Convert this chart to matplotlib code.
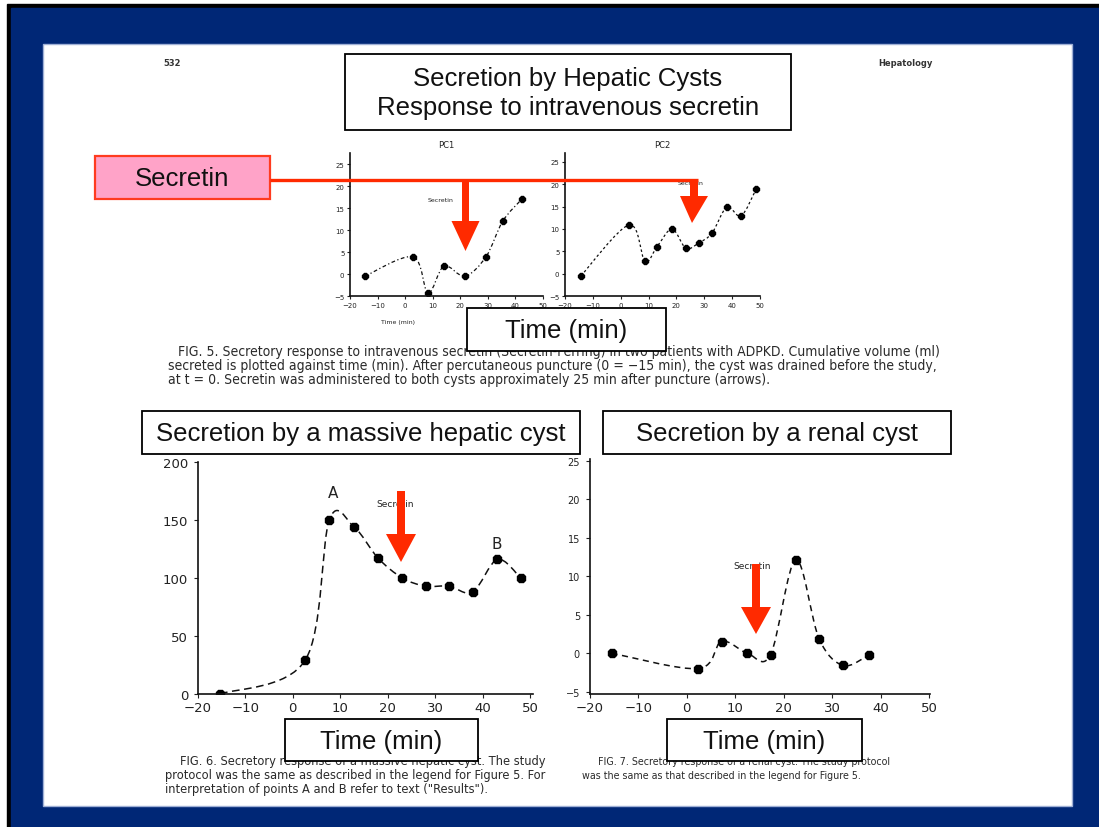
import matplotlib
matplotlib.use("Agg")
import matplotlib.pyplot as plt
from matplotlib.patches import Rectangle, Polygon, PathPatch
from matplotlib.path import Path
from matplotlib import font_manager
import numpy as np

# ---------------- data ----------------
pc1_time = [-14.6, 2.8, 8.3, 14.1, 21.7, 29.3, 35.4, 42.3]
pc1_volume = [-0.5, 3.9, -4.3, 1.8, -0.5, 3.9, 12.0, 17.0]

pc2_time = [-14.3, 3.0, 8.7, 13.0, 18.4, 23.4, 28.1, 32.8, 38.1, 43.2, 48.6]
pc2_volume = [-0.5, 10.9, 2.8, 6.0, 10.0, 5.7, 6.9, 9.1, 14.9, 12.9, 18.9]

massive_time = [-15.3, 2.6, 7.7, 12.9, 18.0, 23.1, 28.0, 32.9, 37.9, 43.1, 48.0]
massive_volume = [0, 29, 150, 144, 117, 100, 93, 93, 88, 116, 100]

renal_time = [-15.5, 2.4, 7.2, 12.5, 17.3, 22.5, 27.3, 32.3, 37.6]
renal_volume = [0, -2.0, 1.5, 0, -0.2, 12.1, 1.9, -1.6, -0.2]

top_xticks = [-20, -10, 0, 10, 20, 30, 40, 50]
top_yticks = [-5, 0, 5, 10, 15, 20, 25]
massive_xticks = [-20, -10, 0, 10, 20, 30, 40, 50]
massive_yticks = [0, 50, 100, 150, 200]
renal_xticks = [-20, -10, 0, 10, 20, 30, 40, 50]
renal_yticks = [-5, 0, 5, 10, 15, 20, 25]

title_lines = ["Secretion by Hepatic Cysts", "Response to intravenous secretin"]
panel_titles = ["Secretion by a massive hepatic cyst", "Secretion by a renal cyst"]
small_titles = ["PC1", "PC2"]
xlabel_text = "Time (min)"
secretin_text = "Secretin"

caption_top = [
    "FIG. 5. Secretory response to intravenous secretin (Secretin-Ferring) in two patients with ADPKD. Cumulative volume (ml)",
    "secreted is plotted against time (min). After percutaneous puncture (0 = \u221215 min), the cyst was drained before the study,",
    "at t = 0. Secretin was administered to both cysts approximately 25 min after puncture (arrows).",
]
caption_left = [
    "FIG. 6. Secretory response of a massive hepatic cyst. The study",
    "protocol was the same as described in the legend for Figure 5. For",
    "interpretation of points A and B refer to text (\"Results\").",
]
caption_right = [
    "FIG. 7. Secretory response of a renal cyst. The study protocol",
    "was the same as that described in the legend for Figure 5.",
]

# ---------------- setup ----------------
W, H = 1099, 828
fig = plt.figure(figsize=(W / 100, H / 100), dpi=100)
fig.patch.set_facecolor("white")

names = {f.name for f in font_manager.fontManager.ttflist}
SLIDE_FONT = ["Liberation Sans Narrow", "Liberation Sans", "DejaVu Sans"]
SLIDE_FONT = [f for f in SLIDE_FONT if f in names] or ["DejaVu Sans"]
narrow = SLIDE_FONT[0] == "Liberation Sans Narrow"
BIG = 21.5 if narrow else 18.5

NAVY = "#002776"
RED = "#ff2a00"
PINK = "#ffa3c8"


def ax_px(left, right, top, bottom, **kw):
    return fig.add_axes([left / W, 1 - bottom / H, (right - left) / W, (bottom - top) / H], **kw)


# background layer (pixel coordinates)
bg = fig.add_axes([0, 0, 1, 1], zorder=0)
bg.set_xlim(0, W)
bg.set_ylim(H, 0)
bg.axis("off")
bg.add_patch(Rectangle((7, 5), W, H, color="black"))
bg.add_patch(Rectangle((11, 9), W, H, color=NAVY))
bg.add_patch(Rectangle((43, 45), 1072 - 43, 807 - 45, facecolor="white", edgecolor="#9fb0d6", lw=1))

bg.text(172, 64, "532", fontsize=6, color="#333", ha="center", va="center", fontweight="bold")
bg.text(905, 64, "Hepatology", fontsize=6, color="#333", ha="center", va="center", fontweight="bold")

fig.canvas.draw()
renderer = fig.canvas.get_renderer()


def caption(ax, x_full, x_first, x_right, ys, lines):
    """Fit the first full line to its width, then use the same size for all lines."""
    t0 = ax.text(x_first, ys[0], lines[0], fontsize=7, ha="left", va="center", color="#2a2a2a",
                 fontstretch="condensed")
    bb = t0.get_window_extent(renderer)
    size = 7 * (x_right - x_first) / bb.width
    t0.set_fontsize(size)
    for y, s in zip(ys[1:], lines[1:]):
        ax.text(x_full, y, s, fontsize=size, ha="left", va="center", color="#2a2a2a",
                fontstretch="condensed")


caption(bg, 168, 178, 945, [352, 366, 380], caption_top)
caption(bg, 165, 180, 545, [762, 776, 790], caption_left)
caption(bg, 582, 598, 890, [762, 776], caption_right)


def catmull_path(xs, ys):
    pts = np.column_stack([xs, ys]).astype(float)
    verts = [pts[0]]
    codes = [Path.MOVETO]
    n = len(pts)
    for i in range(n - 1):
        p0 = pts[i - 1] if i > 0 else pts[i]
        p1, p2 = pts[i], pts[i + 1]
        p3 = pts[i + 2] if i + 2 < n else pts[i + 1]
        c1 = p1 + (p2 - p0) / 6.0
        c2 = p2 - (p3 - p1) / 6.0
        verts += [c1, c2, p2]
        codes += [Path.CURVE4] * 3
    return Path(verts, codes)


def style_axis(ax, xt, yt, size, length=3):
    for s in ("top", "right"):
        ax.spines[s].set_visible(False)
    for s in ("left", "bottom"):
        ax.spines[s].set_linewidth(1.2)
        ax.spines[s].set_color("#111")
    ax.set_xticks(xt)
    ax.set_yticks(yt)
    ax.set_xticklabels([str(v).replace("-", "\u2212") for v in xt])
    ax.set_yticklabels([str(v).replace("-", "\u2212") for v in yt])
    ax.tick_params(labelsize=size, length=length, width=0.8, colors="#222", pad=2)
    ax.patch.set_alpha(0)


def draw_series(ax, xs, ys, ms, dash, lw):
    ax.add_patch(PathPatch(catmull_path(xs, ys), fill=False, lw=lw, ls=dash, color="#111"))
    ax.plot(xs, ys, ls="none", marker="8", ms=ms, color="black")


# ---------------- top plots ----------------
a1 = ax_px(350, 543, 154, 297, zorder=1)
a1.set_xlim(-20, 50)
a1.set_ylim(-5, 27.5)
style_axis(a1, top_xticks, top_yticks, 5, length=2)
draw_series(a1, pc1_time, pc1_volume, 4, (0, (3, 2, 1, 2)), 0.9)
a1.text(0.5, 1.04, small_titles[0], transform=a1.transAxes, ha="center", fontsize=6, color="#222")
a1.text(13, 16.5, secretin_text, fontsize=4.5, color="#222", ha="center")
a1.text(0.25, -0.19, xlabel_text, transform=a1.transAxes, ha="center", fontsize=4.5, color="#222")

a2 = ax_px(565, 760, 154, 297, zorder=1)
a2.set_xlim(-20, 50)
a2.set_ylim(-5, 27)
style_axis(a2, top_xticks, top_yticks, 5, length=2)
draw_series(a2, pc2_time, pc2_volume, 4, (0, (2, 2)), 0.9)
a2.text(0.5, 1.04, small_titles[1], transform=a2.transAxes, ha="center", fontsize=6, color="#222")
a2.text(25, 20, secretin_text, fontsize=4.5, color="#222", ha="center")

# ---------------- bottom plots ----------------
a3 = ax_px(197.8, 533, 463, 695, zorder=1)
a3.set_xlim(-20, 50.6)
a3.set_ylim(0, 200)
style_axis(a3, massive_xticks, massive_yticks, 9.5)
a3.tick_params(axis="y", pad=4)
draw_series(a3, massive_time, massive_volume, 7, (0, (5, 3)), 1.1)
a3.text(8.5, 170, "A", fontsize=11, ha="center", color="#222")
a3.text(43, 126, "B", fontsize=11, ha="center", color="#222")
a3.text(21.5, 162, secretin_text, fontsize=6.5, ha="center", color="#222")

a4 = ax_px(589.7, 930, 460, 695, zorder=1)
a4.set_xlim(-20, 50.2)
a4.set_ylim(-5.3, 25.2)
style_axis(a4, renal_xticks, renal_yticks, 9.5)
a4.tick_params(axis="y", pad=4, labelsize=7)
draw_series(a4, renal_time, renal_volume, 7, (0, (4, 3)), 1.1)
a4.text(13.5, 11, secretin_text, fontsize=6.5, ha="center", color="#222")

# ---------------- overlay (boxes, arrows) ----------------
ov = fig.add_axes([0, 0, 1, 1], zorder=5)
ov.set_xlim(0, W)
ov.set_ylim(H, 0)
ov.axis("off")
ov.patch.set_alpha(0)


def box(x0, y0, x1, y1, lines, size, ys=None, fc="white", ec="black", lw=1.3):
    ov.add_patch(Rectangle((x0, y0), x1 - x0, y1 - y0, facecolor=fc, edgecolor=ec, lw=lw))
    if ys is None:
        ys = [(y0 + y1) / 2 + 1]
    for y, s in zip(ys, lines):
        ov.text((x0 + x1) / 2, y, s, fontsize=size, family=SLIDE_FONT,
                ha="center", va="center", color="#111")


box(345, 55, 791, 131, title_lines, BIG, ys=[79, 108])
box(142, 412, 580, 455, [panel_titles[0]], BIG)
box(603, 412, 951, 455, [panel_titles[1]], BIG)
box(467, 309, 666, 352, [xlabel_text], BIG)
box(285, 720, 478, 762, [xlabel_text], BIG)
box(667, 720, 862, 762, [xlabel_text], BIG)
box(95, 157, 270, 200, [secretin_text], BIG, fc=PINK, ec="#ff3b1f", lw=1.6)

ov.plot([270, 698], [181, 181], color=RED, lw=2.4, solid_capstyle="butt")


def arrow(cx, y0, y_head, tip, shaft_w=8, head_w=30, tip_dx=0):
    ov.add_patch(Rectangle((cx - shaft_w / 2, y0), shaft_w, y_head - y0 + 1, color=RED, lw=0))
    ov.add_patch(Polygon([(cx - head_w / 2, y_head), (cx + head_w / 2, y_head), (cx + tip_dx, tip)],
                         closed=True, color=RED, lw=0))


arrow(465.5, 180, 222, 252, shaft_w=7, head_w=28)
arrow(694, 180, 197, 224, shaft_w=8, head_w=28, tip_dx=-2)
arrow(401, 492, 535, 563, shaft_w=8, head_w=30)
arrow(756, 565, 608, 635, shaft_w=8, head_w=30)

fig.savefig("out.png", dpi=100)
